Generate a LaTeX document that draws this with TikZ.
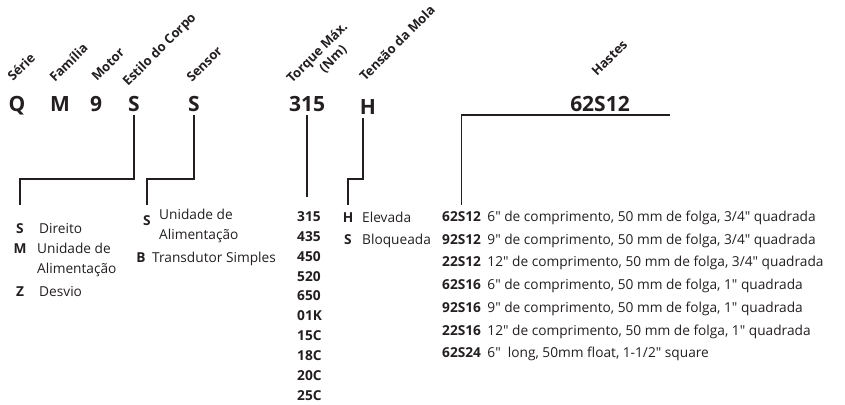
\documentclass[tikz,border=0pt]{standalone}
\usepackage{fontspec}
\setmainfont{Open Sans}[Ligatures=TeXOff]
\usetikzlibrary{positioning}
\definecolor{ink}{HTML}{231F20}

\begin{document}
\begin{tikzpicture}[x=1pt,y=1pt,ink,
  code/.style={font=\fontsize{21}{25}\selectfont\bfseries,inner sep=4pt,anchor=base},
  lbl/.style={font=\fontsize{13}{15}\selectfont\bfseries,inner sep=0pt,rotate=45,anchor=base west},
  key/.style={font=\fontsize{13.7}{18}\selectfont\bfseries,inner sep=0pt,anchor=base west},
  txt/.style={font=\fontsize{13.7}{18}\selectfont,inner sep=0pt,anchor=base west},
  link/.style={line width=1.4pt}]
\useasboundingbox (0,0) rectangle (845,-404);

% headings
\node[lbl] (lSerie) at (13,-82) {Série};
\node[lbl] (lFam) at (55,-83) {Família};
\node[lbl] (lMotor) at (97,-82) {Motor};
\node[lbl] (lBody) at (128,-87) {Estilo do Corpo};
\node[lbl] (lSens) at (192,-83) {Sensor};
\node[lbl] (lTorq) at (292,-84) {Torque Máx.};
\node[lbl,anchor=base] (lNm) at (336,-62) {(Nm)};
\node[lbl] (lSpring) at (365,-82) {Tensão da Mola};
\node[lbl] (lShaft) at (597,-77) {Hastes};

% model code
\node[code] (cSerie) at (17,-111) {Q};
\node[code] (cFam) at (60,-111) {M};
\node[code] (cMotor) at (96,-111) {9};
\node[code] (cBody) at (134,-111) {S};
\node[code] (cSens) at (194,-111) {S};
\node[code] (cTorq) at (307,-111) {315};
\node[code] (cSpring) at (368,-114) {H};
\node[code] (cShaft) at (600,-111) {62S12};

% estilo do corpo
\node[key,anchor=base] (bS) at (20,-233) {S};
\node[txt] (bStxt) at (39,-233) {Direito};
\node[key,anchor=base] (bM) at (20,-253) {M};
\node[txt] (bMtxt) at (37,-253) {Unidade de};
\node[txt] (bMtxt2) at (37,-273) {Alimentação};
\node[key,anchor=base] (bZ) at (20,-296) {Z};
\node[txt] (bZtxt) at (39,-296) {Desvio};

% sensor
\node[key,anchor=base] (sS) at (147,-225) {S};
\node[txt] (sStxt) at (159,-219) {Unidade de};
\node[txt] (sStxt2) at (159,-239) {Alimentação};
\node[key,anchor=base] (sB) at (141,-262) {B};
\node[txt] (sBtxt) at (152,-262) {Transdutor Simples};

% torque
\node[key] (t315) at (297,-221) {315};
\node[key] (t435) at (297,-241) {435};
\node[key] (t450) at (297,-261) {450};
\node[key] (t520) at (297,-281) {520};
\node[key] (t650) at (297,-300) {650};
\node[key] (t01K) at (297,-320) {01K};
\node[key] (t15C) at (297,-340) {15C};
\node[key] (t18C) at (297,-360) {18C};
\node[key] (t20C) at (297,-380) {20C};
\node[key] (t25C) at (297,-400) {25C};

% mola
\node[key,anchor=base] (mH) at (348,-222) {H};
\node[txt] (mHtxt) at (362,-222) {Elevada};
\node[key,anchor=base] (mS) at (348,-244) {S};
\node[txt] (mStxt) at (362,-244) {Bloqueada};

% hastes
\node[key] (h1) at (442,-221) {62S12};
\node[txt,base right=6pt of h1] (h1txt) {6" de comprimento, 50 mm de folga, 3/4" quadrada};
\node[key] (h2) at (442,-244) {92S12};
\node[txt,base right=6pt of h2] (h2txt) {9" de comprimento, 50 mm de folga, 3/4" quadrada};
\node[key] (h3) at (442,-266) {22S12};
\node[txt,base right=6pt of h3] (h3txt) {12" de comprimento, 50 mm de folga, 3/4" quadrada};
\node[key] (h4) at (442,-289) {62S16};
\node[txt,base right=6pt of h4] (h4txt) {6" de comprimento, 50 mm de folga, 1" quadrada};
\node[key] (h5) at (442,-312) {92S16};
\node[txt,base right=6pt of h5] (h5txt) {9" de comprimento, 50 mm de folga, 1" quadrada};
\node[key] (h6) at (442,-335) {22S16};
\node[txt,base right=6pt of h6] (h6txt) {12" de comprimento, 50 mm de folga, 1" quadrada};
\node[key] (h7) at (442,-357) {62S24};
\node[txt,base right=6pt of h7] (h7txt) {6"\ \ long, 50mm float, 1-1/2" square};

% connectors
\coordinate (jBody) at (80,-179);
\coordinate (jSens) at (170,-179);
\coordinate (jSpring) at (355,-179);
\coordinate (shaftEnd) at (670,-115);
\draw[link,shorten >=18pt] (cBody.south) |- (jBody) -| (bS.north);
\draw[link,shorten >=10pt] (cSens.south) |- (jSens) -| (sS.north);
\draw[link,shorten >=14pt] (cTorq.south) -- (cTorq.south |- t315.north);
\draw[link,shorten >=7pt] ([xshift=-5pt]cSpring.south) |- (jSpring) -| (mH.north);
\draw[link,shorten >=6pt] (shaftEnd) -| (h1.north);
\end{tikzpicture}
\end{document}
